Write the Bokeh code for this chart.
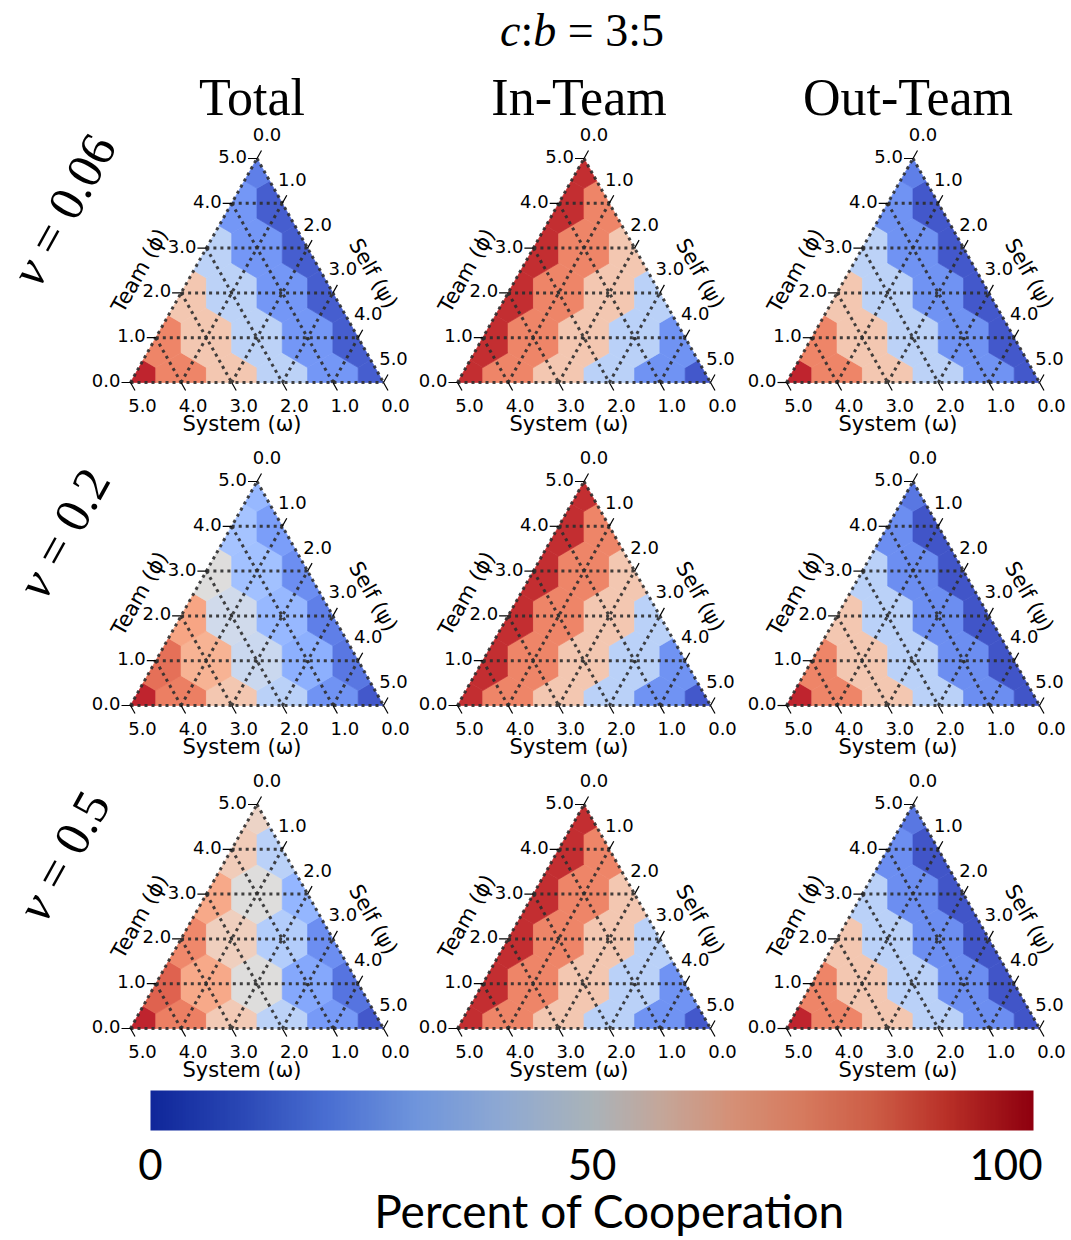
import numpy as np
from bokeh.plotting import figure
from bokeh.layouts import column, row
from bokeh.models import Range1d, LinearColorMapper, ColumnDataSource
from bokeh.transform import transform
from bokeh.core.properties import value
from bokeh.embed import file_html
from bokeh.resources import INLINE

# ---------------------------------------------------------------------------
# Percent of cooperation on the simplex lattice (scale 5).
# Each inner list is one Team (phi) level: 0 = bottom edge ... 5 = apex.
# Inside a level the entries run from Self (psi) = 0 (left) to 5 - phi (right);
# System (omega) = 5 - phi - psi.
# ---------------------------------------------------------------------------
total_v006 = [[97, 80, 61, 39, 18, 4], [80, 61, 39, 18, 4], [61, 39, 18, 4],
              [39, 18, 4], [18, 4], [12]]
in_v006 = [[96, 80, 61, 38, 17, 3], [96, 80, 61, 38, 17], [96, 80, 61, 38],
           [96, 80, 61], [96, 80], [96]]
out_v006 = [[97, 80, 61, 39, 17, 3], [80, 61, 39, 17, 3], [61, 39, 17, 3],
            [39, 17, 3], [17, 3], [12]]

total_v02 = [[97, 81, 61, 38, 17, 3], [84, 68, 43, 25, 10], [72, 45, 28, 12],
             [50, 31, 16], [32, 20], [28]]
in_v02 = [[96, 80, 61, 38, 17, 3], [96, 80, 61, 38, 17], [96, 80, 61, 38],
          [96, 80, 61], [96, 80], [96]]
out_v02 = [[97, 80, 61, 38, 16, 2], [80, 61, 38, 16, 2], [61, 38, 16, 2],
           [38, 16, 2], [16, 2], [10]]

total_v05 = [[97, 81, 60, 39, 19, 3], [87, 71, 50, 23, 9], [79, 58, 36, 16],
             [71, 50, 27], [59, 38], [56]]
in_v05 = [[96, 80, 61, 38, 17, 3], [96, 80, 61, 38, 17], [96, 80, 61, 38],
          [96, 80, 61], [96, 80], [96]]
out_v05 = [[97, 80, 61, 38, 16, 2], [80, 61, 38, 16, 2], [61, 38, 16, 2],
           [38, 16, 2], [16, 2], [10]]

panels = [[total_v006, in_v006, out_v006],
          [total_v02, in_v02, out_v02],
          [total_v05, in_v05, out_v05]]

column_titles = ["Total", "In-Team", "Out-Team"]
nu_values = ["0.06", "0.2", "0.5"]
tick_values = [0, 1, 2, 3, 4, 5]
tick_labels = ["0.0", "1.0", "2.0", "3.0", "4.0", "5.0"]
bottom_title = "System (\u03c9)"
left_title = "Team (\u03d5)"
right_title = "Self (\u03c8)"
cbar_ticks = [0, 50, 100]
cbar_tick_labels = ["0", "50", "100"]
cbar_title = "Percent of Cooperation"

SCALE = 5

# ---------------------------------------------------------------------------
# colour maps
# ---------------------------------------------------------------------------
COOLWARM = [(59, 76, 192), (68, 90, 204), (77, 104, 215), (87, 117, 225),
            (98, 130, 234), (108, 142, 241), (119, 154, 247), (130, 165, 251),
            (141, 176, 254), (152, 185, 255), (163, 194, 255), (174, 201, 253),
            (184, 208, 249), (194, 213, 244), (204, 217, 238), (213, 219, 230),
            (221, 221, 221), (229, 216, 209), (236, 211, 197), (241, 204, 184),
            (245, 196, 172), (247, 187, 159), (247, 177, 146), (247, 166, 133),
            (244, 154, 123), (241, 141, 111), (236, 127, 99), (229, 112, 88),
            (222, 96, 77), (213, 80, 66), (203, 62, 56), (192, 40, 47),
            (180, 4, 38)]

CBAR_STOPS = [(0.00, "#10279a"), (0.10, "#2a47b5"), (0.20, "#4a6fd2"),
              (0.30, "#6f95dc"), (0.40, "#8fa9d2"), (0.50, "#aab3b9"),
              (0.58, "#c4a699"), (0.66, "#d59076"), (0.74, "#d67a5e"),
              (0.82, "#cd5d46"), (0.90, "#ba3229"), (1.00, "#8f000f")]


def hex_to_rgb(h):
    h = h.lstrip("#")
    return tuple(int(h[i:i + 2], 16) for i in (0, 2, 4))


def build_palette(positions, rgbs, n=256):
    rgbs = np.array(rgbs, dtype=float)
    t = np.linspace(0, 1, n)
    out = []
    for k in range(n):
        c = [np.interp(t[k], positions, rgbs[:, j]) for j in range(3)]
        out.append("#%02x%02x%02x" % tuple(int(round(v)) for v in c))
    return out


cell_palette = build_palette(np.linspace(0, 1, len(COOLWARM)), COOLWARM)
cbar_palette = build_palette([s[0] for s in CBAR_STOPS],
                             [hex_to_rgb(s[1]) for s in CBAR_STOPS])
cell_mapper = LinearColorMapper(palette=cell_palette, low=0, high=100)
cbar_mapper = LinearColorMapper(palette=cbar_palette, low=0, high=100)

# ---------------------------------------------------------------------------
# geometry: x = Self + Team/2, y = Team  (triangle (0,0) (5,0) (2.5,5))
# ---------------------------------------------------------------------------
PX_X = 50.6      # screen pixels per unit along the bottom edge
PX_Y = 44.8      # screen pixels per Team unit
ROW_H = [318, 323, 323]
BASE_PX = 61     # height of the bottom edge above the panel's lower border
COL_W = [415, 328, 328]
COL_LEFT = [130, 42, 43]
HEADER_H = 125
CBAR_H = 151

HALF_PLANES = [(0.0, 1.0, 0.0),            # y >= 0
               (2.0, -1.0, 0.0),           # left edge
               (-2.0, -1.0, 2.0 * SCALE)]  # right edge


def clip(poly, a, b, c):
    out = []
    n = len(poly)
    for i in range(n):
        p, q = poly[i], poly[(i + 1) % n]
        fp = a * p[0] + b * p[1] + c
        fq = a * q[0] + b * q[1] + c
        if fp >= -1e-12:
            out.append(p)
        if (fp >= -1e-12) != (fq >= -1e-12):
            s = fp / (fp - fq)
            out.append((p[0] + s * (q[0] - p[0]), p[1] + s * (q[1] - p[1])))
    return out


def cell_polygon(team, self_):
    cx, cy = self_ + team / 2.0, float(team)
    offs = [(0.5, 1 / 3), (0.0, 2 / 3), (-0.5, 1 / 3),
            (-0.5, -1 / 3), (0.0, -2 / 3), (0.5, -1 / 3)]
    poly = [(cx + dx, cy + dy) for dx, dy in offs]
    for a, b, c in HALF_PLANES:
        poly = clip(poly, a, b, c)
    return poly


def text_run(p, x0, y0, pieces, fs, angle=0.0, font="Liberation Serif",
             sx_scale=1.0, sy_scale=1.0):
    """Draw a run of (text, style, advance_em) pieces along a baseline,
    starting at (x0, y0); advances are converted from pixels to data units."""
    adv = 0.0
    for txt, style, w in pieces:
        if txt:
            p.text([x0 + adv * np.cos(angle) / sx_scale],
                   [y0 + adv * np.sin(angle) / sy_scale], text=[txt],
                   angle=angle, text_align="left", text_baseline="middle",
                   text_font=value(font), text_font_style=style,
                   text_font_size=f"{fs}px", text_color="black")
        adv += w * fs


TICK_FONT = value("DejaVu Sans")
GRID_COLOR = "#2e2e2e"


def ternary_panel(vals, width, height, left_px, nu=None):
    p = figure(width=width, height=height, output_backend="svg",
               toolbar_location=None, min_border=0,
               x_range=Range1d(-left_px / PX_X, (width - left_px) / PX_X),
               y_range=Range1d(-BASE_PX / PX_Y, (height - BASE_PX) / PX_Y),
               x_axis_type=None, y_axis_type=None, outline_line_color=None,
               background_fill_color="white", border_fill_color="white")
    p.grid.visible = False

    # hexagonal heat-map cells
    xs, ys, vv = [], [], []
    for team, level in enumerate(vals):
        for self_, v in enumerate(level):
            poly = cell_polygon(team, self_)
            xs.append([q[0] for q in poly])
            ys.append([q[1] for q in poly])
            vv.append(v)
    src = ColumnDataSource(dict(xs=xs, ys=ys, val=vv))
    p.patches("xs", "ys", source=src, fill_color=transform("val", cell_mapper),
              line_color=transform("val", cell_mapper), line_width=0.7)

    # dotted grid (k = 0 gives the triangle boundary)
    gx, gy = [], []
    for k in range(SCALE):
        gx.append([k / 2.0, SCALE - k / 2.0]); gy.append([k, k])            # Team = k
        gx.append([k, k + (SCALE - k) / 2.0]); gy.append([0, SCALE - k])     # Self = k
        gx.append([(SCALE - k) / 2.0, SCALE - k]); gy.append([SCALE - k, 0])  # System = k
    p.multi_line(gx, gy, line_color=GRID_COLOR, line_width=3.0,
                 line_dash="3 4", line_alpha=0.9)

    # ticks
    tl = 9.0
    txs, tys = [], []
    lx, ly, lt = [], [], []   # left
    bx, by, bt = [], [], []   # bottom
    rx, ry, rt = [], [], []   # right
    for v, lab in zip(tick_values, tick_labels):
        # Team axis on the left edge
        x0, y0 = v / 2.0, v
        txs.append([x0, x0 - tl / PX_X]); tys.append([y0, y0])
        lx.append(x0 - (tl + 1) / PX_X); ly.append(y0 + 2 / PX_Y); lt.append(lab)
        # System axis on the bottom edge (System = v at x = 5 - v)
        x0, y0 = SCALE - v, 0.0
        txs.append([x0, x0 + 4.5 / PX_X]); tys.append([y0, y0 - 8 / PX_Y])
        bx.append(x0 + 12 / PX_X); by.append(-23 / PX_Y); bt.append(lab)
        # Self axis on the right edge
        x0, y0 = SCALE / 2.0 + v / 2.0, SCALE - v
        txs.append([x0, x0 + 4.5 / PX_X]); tys.append([y0, y0 + 8 / PX_Y])
        rx.append(x0 + 10 / PX_X); ry.append(y0 + 24 / PX_Y); rt.append(lab)
    p.multi_line(txs, tys, line_color="black", line_width=1.2)

    common = dict(text_font=TICK_FONT, text_font_size="18px", text_color="black")
    p.text(lx, ly, text=lt, text_align="right", text_baseline="middle", **common)
    p.text(bx, by, text=bt, text_align="center", text_baseline="middle", **common)
    p.text(rx, ry, text=rt, text_align="center", text_baseline="middle", **common)

    # axis titles
    title_style = dict(text_font=TICK_FONT, text_font_size="21px", text_color="black")
    p.text([SCALE / 2.0 - 15 / PX_X], [-41 / PX_Y], text=[bottom_title],
           text_align="center", text_baseline="middle", **title_style)
    ang = np.arctan2(SCALE * PX_Y, SCALE / 2.0 * PX_X)
    p.text([SCALE / 4.0 - 54 / PX_X], [SCALE / 2.0], text=[left_title], angle=ang,
           text_align="center", text_baseline="middle", **title_style)
    p.text([3 * SCALE / 4.0 + 53 / PX_X], [SCALE / 2.0 - 3 / PX_Y], text=[right_title],
           angle=-ang, text_align="center", text_baseline="middle", **title_style)

    # row label (nu) in the first column
    if nu is not None:
        fs = 50
        theta = np.deg2rad(61)
        pieces = [("\u03bd", "italic", 0.46), ("", "normal", 0.25),
                  ("=", "normal", 0.564), ("", "normal", 0.25),
                  (nu, "normal", 0.25 + 0.5 * (len(nu) - 1))]
        total = sum(w for _, _, w in pieces) * fs
        cx, cy = -67 / PX_X, 3.85
        sx = cx - (total / 2) * np.cos(theta) / PX_X
        sy = cy - (total / 2) * np.sin(theta) / PX_Y
        text_run(p, sx, sy, pieces, fs, angle=theta, sx_scale=PX_X, sy_scale=PX_Y)
    return p


# ---------------------------------------------------------------------------
# header: overall title and column titles
# ---------------------------------------------------------------------------
header = figure(width=sum(COL_W), height=HEADER_H, output_backend="svg",
                toolbar_location=None, min_border=0,
                x_range=Range1d(0, sum(COL_W)), y_range=Range1d(0, HEADER_H),
                x_axis_type=None, y_axis_type=None, outline_line_color=None)
header.grid.visible = False
starts = np.cumsum([0] + COL_W[:-1])
centers = [s + l + SCALE / 2.0 * PX_X for s, l in zip(starts, COL_LEFT)]
header.text([c - 5 for c in centers], [HEADER_H - 97] * 3, text=column_titles,
            text_align="center", text_baseline="middle",
            text_font=value("Liberation Serif"), text_font_size="52px")

# "c:b = 3:5" with italic c and b
fs_title = 46
cb_pieces = [("c", "italic", 0.444), (":", "normal", 0.278), ("b", "italic", 0.5),
             ("", "normal", 0.25), ("=", "normal", 0.564), ("", "normal", 0.25),
             ("3:5", "normal", 1.278)]
tw = sum(w for _, _, w in cb_pieces) * fs_title
text_run(header, centers[1] - 2 - tw / 2, HEADER_H - 30, cb_pieces, fs_title)

# ---------------------------------------------------------------------------
# panel grid
# ---------------------------------------------------------------------------
rows = []
for r, row_vals in enumerate(panels):
    figs = []
    for c, vals in enumerate(row_vals):
        figs.append(ternary_panel(vals, COL_W[c], ROW_H[r], COL_LEFT[c],
                                  nu=nu_values[r] if c == 0 else None))
    rows.append(row(*figs))

# ---------------------------------------------------------------------------
# colour bar
# ---------------------------------------------------------------------------
BAR_L, BAR_R = 150, 1033
ppu = (BAR_R - BAR_L) / 100.0
cbar = figure(width=sum(COL_W), height=CBAR_H, output_backend="svg",
              toolbar_location=None, min_border=0,
              x_range=Range1d(-BAR_L / ppu, 100 + (sum(COL_W) - BAR_R) / ppu),
              y_range=Range1d(0, CBAR_H), x_axis_type=None, y_axis_type=None,
              outline_line_color=None)
cbar.grid.visible = False
gradient = np.linspace(0, 100, 600).reshape(1, -1)
cbar.image(image=[gradient], x=0, y=CBAR_H - 41, dw=100, dh=40,
           color_mapper=cbar_mapper)
lab_style = dict(text_baseline="middle", text_font=value("Lato"),
                 text_font_size="42px", text_color="black")
cbar.text([cbar_ticks[0]], [76], text=[cbar_tick_labels[0]], text_align="center",
          **lab_style)
cbar.text([cbar_ticks[1]], [76], text=[cbar_tick_labels[1]], text_align="center",
          **lab_style)
cbar.text([cbar_ticks[2] + 9 / ppu], [76], text=[cbar_tick_labels[2]],
          text_align="right", **lab_style)
cbar.text([52], [30], text=[cbar_title], text_align="center",
          text_baseline="middle", text_font=value("Lato"), text_font_size="46px",
          text_color="black")

layout = column(header, *rows, cbar)
open("out.html", "w").write(file_html(layout, INLINE))
